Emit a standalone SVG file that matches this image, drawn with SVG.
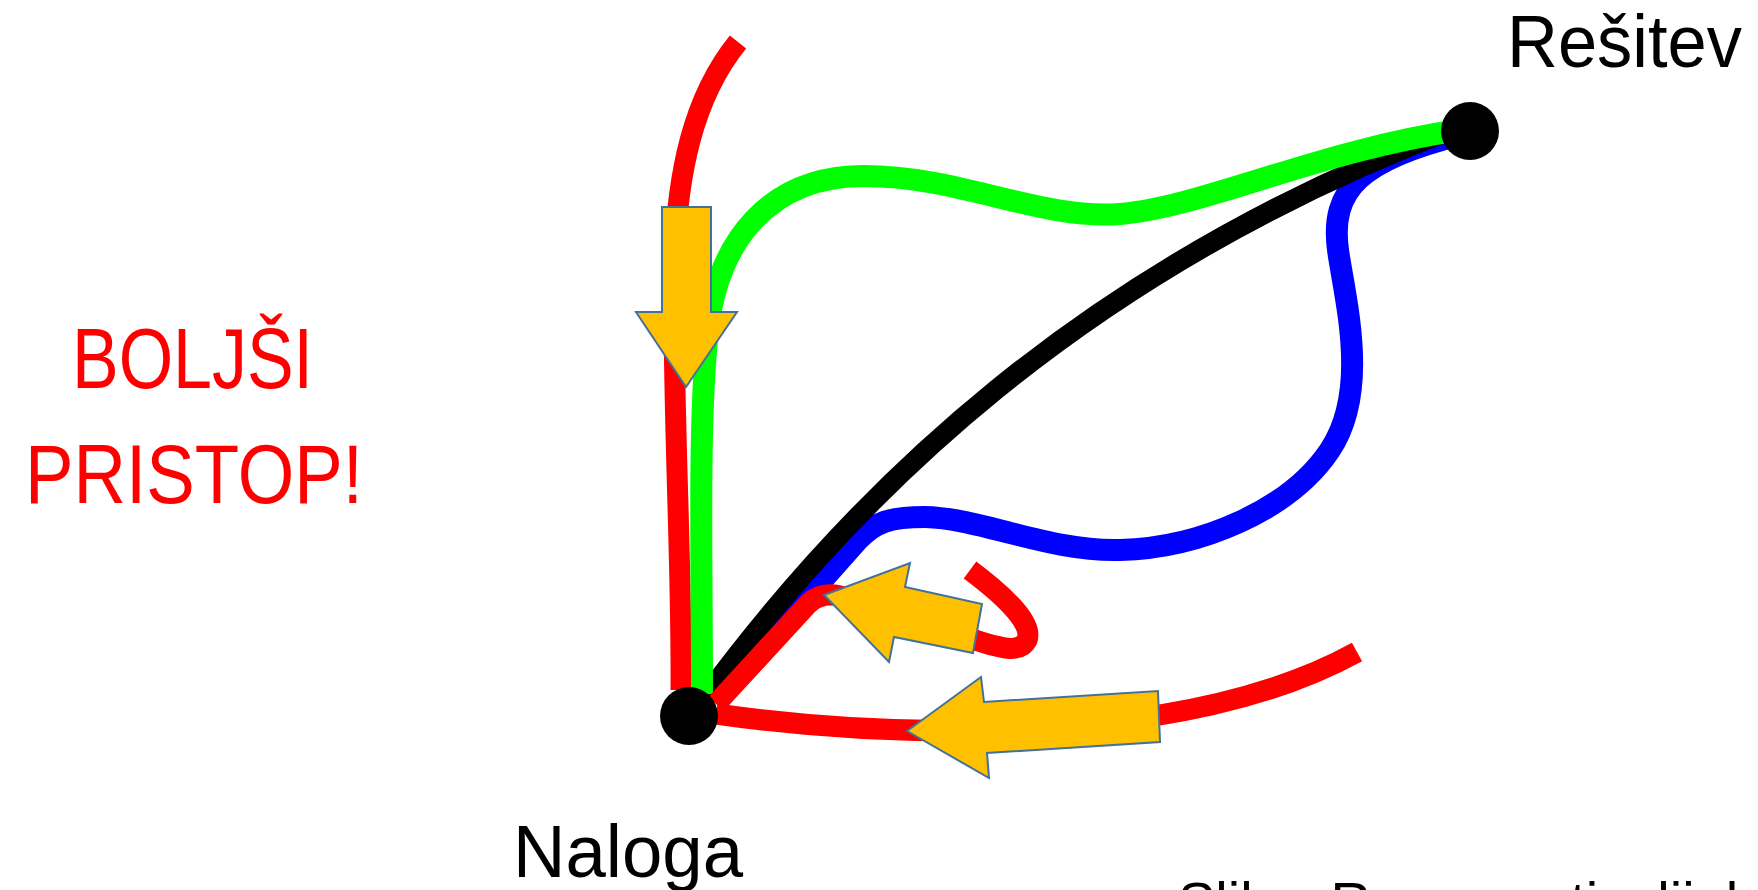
<svg xmlns="http://www.w3.org/2000/svg" width="1758" height="890" viewBox="0 0 1758 890">
<style>
.ln{fill:none;stroke-linecap:butt;stroke-linejoin:round}
.red{stroke:#FF0000;stroke-width:21}
.grn{stroke:#00FF00;stroke-width:22}
.blu{stroke:#0000FF;stroke-width:22}
.blk{stroke:#000000;stroke-width:20}
.arr{fill:#FFC000;stroke:#41719C;stroke-width:2;stroke-linejoin:miter}
.dot{fill:#000000}
.lbl{font-family:"Liberation Sans",Arial,sans-serif;fill:#000000}
.red-t{font-family:"Liberation Sans",Arial,sans-serif;fill:#FF0000}
</style>
<rect width="1758" height="890" fill="#FFFFFF"/>
<g id="connectors">
  <path class="ln blu" d="M 716 700 L 858 540 C 875 522 890 517 925 517 C 980 518 1050 552 1120 550 C 1200 548 1290 510 1330 450 C 1370 390 1345 300 1338 250 C 1330 190 1360 160 1460 135"/>
  <path class="ln blk" d="M 705 697 C 852 498 1080 268 1465 125"/>
  <path class="ln red" d="M 738 42 C 695 95 675 170 674 280 C 673 420 682 560 681 690"/>
  <path class="ln grn" d="M 702 694 C 702 560 698 420 708 330 C 718 240 770 176 864 176 C 960 176 1040 220 1120 214 C 1200 208 1320 150 1460 130"/>
  <path class="ln red" d="M 716 704 L 808 604 C 816 596 826 593 840 596 L 975 640 C 1000 648 1020 654 1027 640 C 1033 625 1010 600 970 570"/>
  <path class="ln red" d="M 716 714 C 800 726 900 733 1000 730 C 1150 725 1270 700 1357 652"/>
</g>
<g id="node-naloga">
  <circle class="dot" cx="689" cy="716" r="29"/>
  <text class="lbl" x="513" y="877" font-size="75" textLength="230" lengthAdjust="spacingAndGlyphs">Naloga</text>
</g>
<g id="node-resitev">
  <circle class="dot" cx="1470" cy="131" r="29"/>
  <text class="lbl" x="1507" y="67" font-size="75" textLength="235" lengthAdjust="spacingAndGlyphs">Rešitev</text>
</g>
<g id="arrow-down">
  <polygon class="arr" points="662,207 711,207 711,312 737,312 686,387 636,312 662,312"/>
</g>
<g id="arrow-middle">
  <polygon class="arr" points="824,595 910,563 905,587 982,604 973,653 894,637 889,662"/>
</g>
<g id="arrow-bottom">
  <polygon class="arr" points="907,731 981,677 984,702 1158,691 1160,742 987,753 989,778"/>
</g>
<g id="title">
  <text class="red-t" x="72" y="388" font-size="85" textLength="241" lengthAdjust="spacingAndGlyphs">BOLJŠI</text>
  <text class="red-t" x="25" y="503" font-size="84" textLength="338" lengthAdjust="spacingAndGlyphs">PRISTOP!</text>
</g>
<g id="caption">
  <text class="lbl" x="1178" y="921" font-size="56">Slika: Razne poti v lijaku</text>
</g>
</svg>
